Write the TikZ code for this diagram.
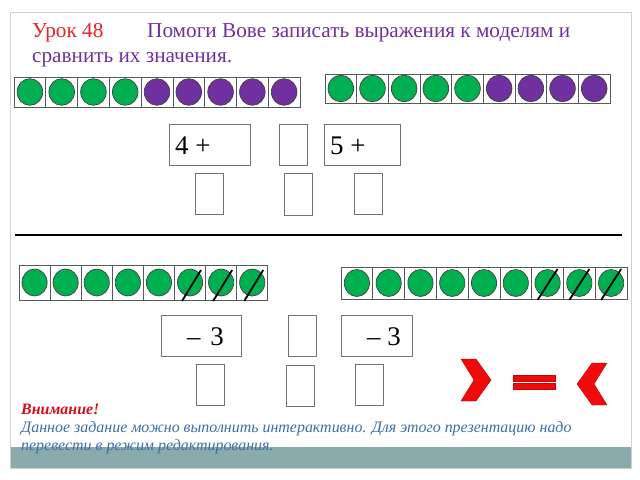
\documentclass[tikz,border=0pt]{standalone}
\usepackage{fontspec}
\setmainfont{Liberation Serif}
\definecolor{dgreen}{HTML}{00B050}
\definecolor{dpurple}{HTML}{7030A0}
\definecolor{ttlred}{HTML}{E8202A}
\definecolor{noteblue}{HTML}{3C6EAA}
\definecolor{notered}{HTML}{D0101C}
\definecolor{band}{HTML}{8AABAB}
\definecolor{framegray}{HTML}{D0D0D0}
\definecolor{symred}{HTML}{F00A0A}
\begin{document}
\begin{tikzpicture}[x=1bp,y=-1bp,
  cellbox/.style={draw=black!65, line width=0.8bp},
  dotshape/.style={draw=black!75, line width=0.7bp},
  ansbox/.style={draw=black!55, line width=1bp},
  slash/.style={draw=black, line width=1.8bp},
  txt/.style={inner sep=0pt, anchor=base west},
  ttlfont/.style={font=\fontsize{21.3}{24}\selectfont},
  notefont/.style={font=\fontsize{16}{19}\selectfont\itshape},
  symfill/.style={fill=symred, draw=symred!80!black, line width=0.4bp}]
\useasboundingbox (0,0) rectangle (640,480);
% frame and band
\fill[white] (0,0) rectangle (640,480);
\fill[band] (10,447) rectangle (631,468);
\draw[framegray, line width=0.8bp] (10,12) rectangle (631,468);
% title
\node[txt, text=ttlred, ttlfont] (t1) at (32,38) {Урок 48};
\node[txt, text=dpurple, ttlfont] (t2) at (147,38) {Помоги Вове записать выражения к моделям и};
\node[txt, text=dpurple, ttlfont] (t3) at (32,63) {сравнить их значения.};
% top left bar
\foreach \i/\c in {0/dgreen,1/dgreen,2/dgreen,3/dgreen,4/dpurple,5/dpurple,6/dpurple,7/dpurple,8/dpurple}{
  \draw[cellbox] (14+\i*31.78,77) rectangle ++(31.78,30);
  \draw[dotshape, fill=\c] (14+\i*31.78+15.89,92) ellipse [x radius=12.8bp, y radius=13.3bp];
}
% top right bar
\foreach \i/\c in {0/dgreen,1/dgreen,2/dgreen,3/dgreen,4/dgreen,5/dpurple,6/dpurple,7/dpurple,8/dpurple}{
  \draw[cellbox] (325+\i*31.67,74) rectangle ++(31.67,29);
  \draw[dotshape, fill=\c] (325+\i*31.67+15.83,88.5) ellipse [x radius=12.8bp, y radius=13.3bp];
}
% upper boxes
\node[ansbox, minimum width=81bp, minimum height=41bp, inner sep=0pt] (b1) at (209.5,145.5) {};
\node[txt, font=\fontsize{27}{30}\selectfont] (b1t) at (175,155) {4 +};
\node[ansbox, minimum width=28bp, minimum height=41bp, inner sep=0pt] (b2) at (293.5,145.5) {};
\node[ansbox, minimum width=76bp, minimum height=41bp, inner sep=0pt] (b3) at (362,145.5) {};
\node[txt, font=\fontsize{27}{30}\selectfont] (b3t) at (330,155) {5 +};
\node[ansbox, minimum width=28bp, minimum height=41bp, inner sep=0pt] (b4) at (209,194.5) {};
\node[ansbox, minimum width=28bp, minimum height=42bp, inner sep=0pt] (b5) at (298.5,195) {};
\node[ansbox, minimum width=28bp, minimum height=41bp, inner sep=0pt] (b6) at (368.5,194.5) {};
% separator
\draw[line width=2bp] (15,235) -- (622,235);
% bottom left bar
\foreach \i in {0,...,7}{
  \draw[cellbox] (19+\i*31.1,265) rectangle ++(31.1,35);
  \draw[dotshape, fill=dgreen] (19+\i*31.1+15.55,282.5) ellipse [x radius=12.6bp, y radius=13.5bp];
}
\foreach \i in {5,6,7}{
  \draw[slash] (19+\i*31.1+15.55-8,301) -- (19+\i*31.1+15.55+11,270);
}
% bottom right bar
\foreach \i in {0,...,8}{
  \draw[cellbox] (341+\i*31.78,267) rectangle ++(31.78,32);
  \draw[dotshape, fill=dgreen] (341+\i*31.78+15.89,283) ellipse [x radius=12.6bp, y radius=13.5bp];
}
\foreach \i in {6,7,8}{
  \draw[slash] (341+\i*31.78+15.89-10,300) -- (341+\i*31.78+15.89+10,269);
}
% lower boxes
\node[ansbox, minimum width=80bp, minimum height=41bp, inner sep=0pt] (c1) at (201,335.5) {};
\node[txt, font=\fontsize{27}{30}\selectfont] (c1t) at (187,345) {–\hspace{3bp} 3};
\node[ansbox, minimum width=28bp, minimum height=41bp, inner sep=0pt] (c2) at (302,335.5) {};
\node[ansbox, minimum width=71bp, minimum height=41bp, inner sep=0pt] (c3) at (376.5,335.5) {};
\node[txt, font=\fontsize{27}{30}\selectfont] (c3t) at (367,345) {– 3};
\node[ansbox, minimum width=28bp, minimum height=41bp, inner sep=0pt] (c4) at (210,384.5) {};
\node[ansbox, minimum width=28bp, minimum height=41bp, inner sep=0pt] (c5) at (300,385.5) {};
\node[ansbox, minimum width=28bp, minimum height=41bp, inner sep=0pt] (c6) at (369.5,384.5) {};
% comparison symbols
\filldraw[symfill] (461,359) -- (476,359) -- (491,380) -- (476,401) -- (461,401) -- (474,380) -- cycle;
\filldraw[symfill] (513,375) rectangle (555,381);
\filldraw[symfill] (513,383) rectangle (555,389);
\filldraw[symfill] (607,363) -- (592,363) -- (577,384) -- (592,405) -- (607,405) -- (594,384) -- cycle;
% note
\node[txt, text=notered, font=\fontsize{16}{19}\selectfont\bfseries\itshape] (n1) at (21,414) {Внимание!};
\node[txt, text=noteblue, notefont] (n2) at (21,432) {Данное задание можно выполнить интерактивно. Для этого презентацию надо};
\node[txt, text=noteblue, notefont] (n3) at (21,450) {перевести в режим редактирования.};
\end{tikzpicture}
\end{document}
